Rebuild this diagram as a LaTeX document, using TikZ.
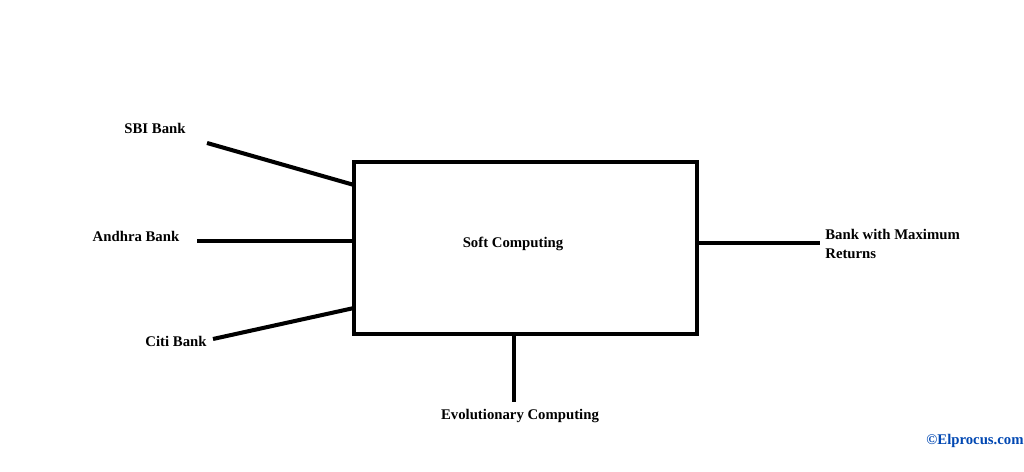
\documentclass[tikz,border=0pt]{standalone}
\usepackage{fontspec}
\setmainfont{Liberation Serif}
\begin{document}
\begin{tikzpicture}[x=0.02cm,y=-0.02cm,
  lbl/.style={font=\fontsize{8.4}{10.8}\selectfont\bfseries, inner sep=0pt},
  wire/.style={line width=2.3pt}]
\useasboundingbox (0,0) rectangle (1024,472);
\node[draw, line width=2.3pt, minimum width=343*0.02cm, minimum height=172*0.02cm, inner sep=0pt] (box) at (525.5,248) {};
\node[lbl] (sc) at (513,244) {Soft Computing};
\node[lbl] (sbi) at (155,128) {SBI Bank};
\node[lbl] (andhra) at (136,236) {Andhra Bank};
\node[lbl] (citi) at (176,341) {Citi Bank};
\node[lbl, align=left, anchor=west] (out) at (825,244) {Bank with Maximum\\Returns};
\node[lbl] (evo) at (520,416) {Evolutionary Computing};
\node[lbl, text=blue!60!cyan!70!black] (cp) at (975,441) {\textcopyright Elprocus.com};
\coordinate (s1) at (207,143); \coordinate (s2) at (354,185);
\coordinate (a1) at (197,241); \coordinate (a2) at (354,241);
\coordinate (c1) at (213,339); \coordinate (c2) at (354,308);
\coordinate (o1) at (697,243); \coordinate (o2) at (820,243);
\coordinate (e1) at (514,334); \coordinate (e2) at (514,402);
\draw[wire] (s1) -- (s2);
\draw[wire] (a1) -- (a2);
\draw[wire] (c1) -- (c2);
\draw[wire] (o1) -- (o2);
\draw[wire] (e1) -- (e2);
\end{tikzpicture}
\end{document}
